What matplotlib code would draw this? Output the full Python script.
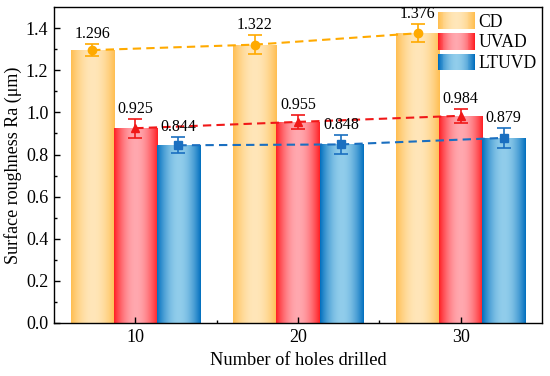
import numpy as np
import matplotlib
matplotlib.use("Agg")
import matplotlib.pyplot as plt
from matplotlib.patches import Rectangle
from matplotlib.legend_handler import HandlerBase

plt.rcParams['font.family'] = ['Liberation Serif', 'DejaVu Serif']
plt.rcParams['mathtext.fontset'] = 'stix'

holes = [10, 20, 30]
series = ['CD', 'UVAD', 'LTUVD']
values = {
    'CD': [1.296, 1.322, 1.376],
    'UVAD': [0.925, 0.955, 0.984],
    'LTUVD': [0.844, 0.848, 0.879],
}
errors = {
    'CD': [0.028, 0.044, 0.042],
    'UVAD': [0.045, 0.033, 0.033],
    'LTUVD': [0.037, 0.045, 0.046],
}
labels = {
    'CD': ['1.296', '1.322', '1.376'],
    'UVAD': ['0.925', '0.955', '0.984'],
    'LTUVD': ['0.844', '0.848', '0.879'],
}

edge_col = {'CD': (255, 190, 80), 'UVAD': (255, 30, 35), 'LTUVD': (0, 110, 190)}
center_col = {'CD': (255, 230, 185), 'UVAD': (255, 168, 175), 'LTUVD': (145, 205, 235)}
line_col = {'CD': '#FFAA00', 'UVAD': '#F01818', 'LTUVD': '#1A6FC0'}
markers = {'CD': 'o', 'UVAD': '^', 'LTUVD': 's'}
msizes = {'CD': 6, 'UVAD': 5.5, 'LTUVD': 5.2}


def gradient_colors(name, n):
    t = np.linspace(0, 1, n)
    w = np.sin(np.pi * t) ** 0.9
    e = np.array(edge_col[name]) / 255.0
    c = np.array(center_col[name]) / 255.0
    return e[None, :] * (1 - w[:, None]) + c[None, :] * w[:, None]


fig = plt.figure(figsize=(5.5, 3.76), dpi=100)
ax = fig.add_axes([0.098, 0.141, 0.8875, 0.84])

width = 2.65
offsets = [-width, 0, width]
x = np.array(holes, dtype=float)

for name, off in zip(series, offsets):
    bars = ax.bar(x + off, values[name], width=width, facecolor='none', edgecolor='none', zorder=1)
    cols = gradient_colors(name, 128)
    img = cols[None, :, :]
    for b in bars:
        x0, y0 = b.get_x(), b.get_y()
        w, h = b.get_width(), b.get_height()
        im = ax.imshow(img, extent=[x0, x0 + w, y0, y0 + h], aspect='auto',
                       interpolation='bilinear', zorder=1)
        im.set_clip_path(b)

for name, off in zip(series, offsets):
    xs = x + off
    ax.plot(xs, values[name], linestyle=(0, (4, 2.5)), color=line_col[name], lw=1.5, zorder=3)
    ax.errorbar(xs, values[name], yerr=errors[name], fmt=markers[name], color=line_col[name],
                ms=msizes[name], capsize=5, capthick=1.2, elinewidth=1.2, zorder=4)
    for xi, v, e, lab in zip(xs, values[name], errors[name], labels[name]):
        ax.annotate(lab, (xi, v + e), xytext=(0, 1.5), textcoords='offset points',
                    ha='center', va='bottom', fontsize=11.5, zorder=5)

ax.set_xlim(5, 35)
ax.set_ylim(0, 1.5)
ax.set_xticks(holes)
ax.set_xticks([15, 25], minor=True)
ax.set_yticks(np.arange(0, 1.41, 0.2))
ax.set_yticks(np.arange(0.1, 1.5, 0.2), minor=True)
ax.set_yticklabels([f'{v:.1f}' for v in np.arange(0, 1.41, 0.2)])
ax.tick_params(which='both', direction='in', labelsize=13, top=False, right=False)
ax.tick_params(which='major', length=4, width=1, pad=4)
ax.tick_params(which='minor', length=2.5, width=1)
for s in ax.spines.values():
    s.set_linewidth(1.0)

ax.set_xlabel('Number of holes drilled', fontsize=13.2, labelpad=5)
ax.set_ylabel('Surface roughness Ra (μm)', fontsize=13, labelpad=3)


class GradHandler(HandlerBase):
    def create_artists(self, legend, orig_handle, xdescent, ydescent, width, height, fontsize, trans):
        name = orig_handle.get_label()
        n = 40
        cols = gradient_colors(name, n)
        arts = []
        for i in range(n):
            r = Rectangle((-xdescent + width * i / n, -ydescent), width / n * 1.05, height,
                          facecolor=cols[i], edgecolor='none', transform=trans)
            arts.append(r)
        return arts


handles = [Rectangle((0, 0), 1, 1, label=n) for n in series]
leg = ax.legend(handles, series, handler_map={Rectangle: GradHandler()}, loc='upper right',
                frameon=False, fontsize=12.7, handlelength=2.1, handleheight=1.05,
                labelspacing=0.15, handletextpad=0.2, borderaxespad=0.1, borderpad=0.2)

fig.savefig('out.png', dpi=100)
